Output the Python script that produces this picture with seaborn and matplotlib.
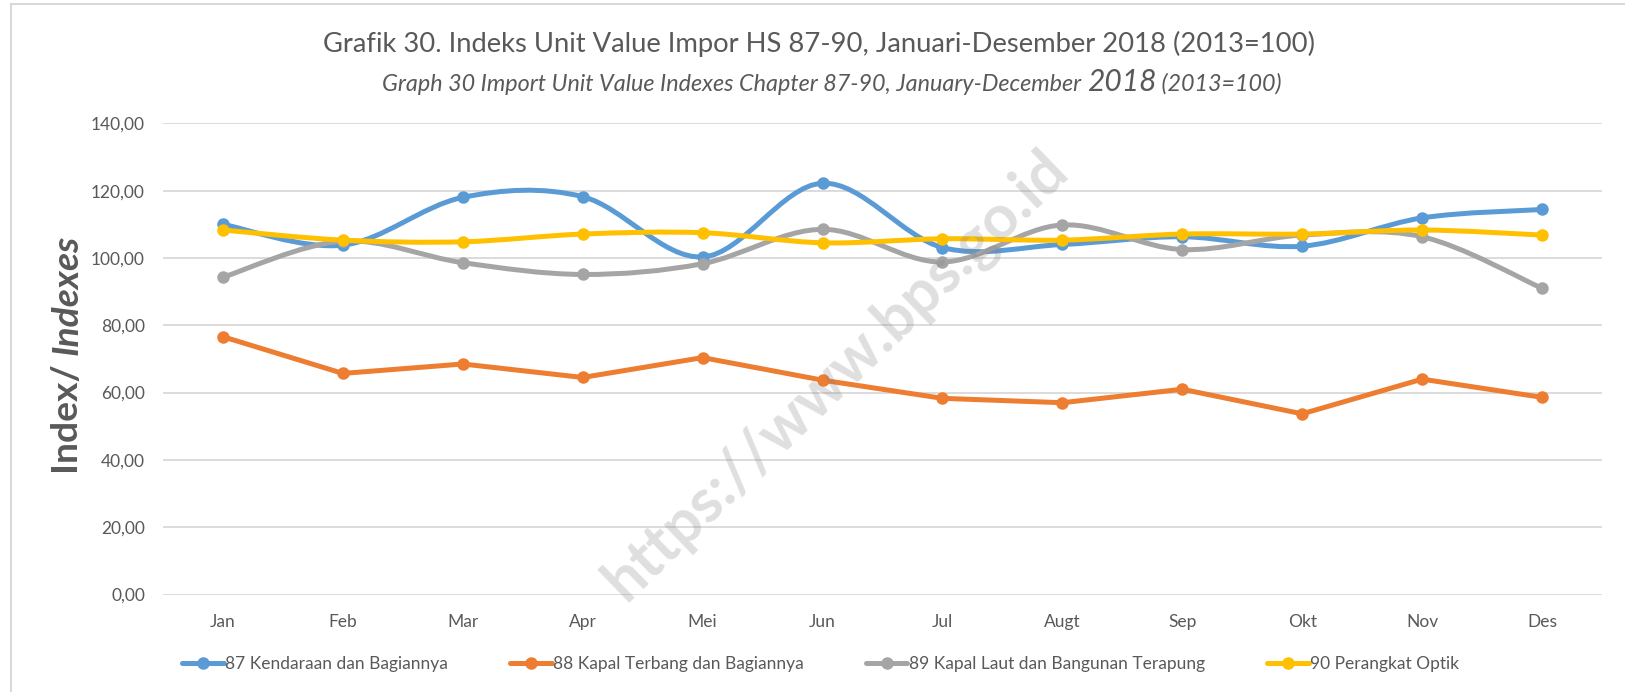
import matplotlib
matplotlib.use('Agg')
import matplotlib.pyplot as plt
import seaborn as sns
import pandas as pd
from matplotlib.path import Path
from matplotlib.patches import PathPatch
from matplotlib.lines import Line2D

# Chart data
months = ['Jan', 'Feb', 'Mar', 'Apr', 'Mei', 'Jun', 'Jul', 'Augt', 'Sep', 'Okt', 'Nov', 'Des']
hs87 = [110.0, 103.8, 118.0, 118.2, 100.3, 122.2, 103.1, 104.0, 106.3, 103.5, 111.9, 114.4]
hs88 = [76.6, 65.7, 68.5, 64.5, 70.4, 63.7, 58.3, 57.0, 61.0, 53.7, 64.0, 58.6]
hs89 = [94.3, 105.0, 98.6, 95.1, 98.3, 108.5, 98.8, 109.8, 102.5, 106.8, 106.3, 91.0]
hs90 = [108.3, 105.3, 104.8, 107.1, 107.5, 104.5, 105.7, 105.3, 107.1, 107.1, 108.3, 106.8]
series_names = ['87 Kendaraan dan Bagiannya', '88 Kapal Terbang dan Bagiannya',
                '89 Kapal Laut dan Bangunan Terapung', '90 Perangkat Optik']
y_ticks = [0, 20, 40, 60, 80, 100, 120, 140]

colors = ['#5B9BD5', '#ED7D31', '#A5A5A5', '#FFC000']
smooth = [True, False, True, True]
text_col = '#595959'

sns.set_theme(style='white')
plt.rcParams['font.family'] = ['Lato', 'DejaVu Sans']

df = pd.DataFrame({'month': months * 4,
                   'value': hs87 + hs88 + hs89 + hs90,
                   'series': sum([[n] * 12 for n in series_names], [])})

fig = plt.figure(figsize=(16.25, 6.92), dpi=100)
ax = fig.add_axes([163 / 1625, 1 - 594.6 / 692, 1439 / 1625, 471.3 / 692])

lw = 3.6
ms = 9


def smooth_path(xs, ys):
    # Excel-like smoothed line: cubic Bezier through the points (Catmull-Rom control points)
    pts = list(zip(xs, ys))
    verts = [pts[0]]
    codes = [Path.MOVETO]
    n = len(pts)
    for i in range(n - 1):
        p0 = pts[i - 1] if i > 0 else pts[i]
        p1 = pts[i]
        p2 = pts[i + 1]
        p3 = pts[i + 2] if i + 2 < n else pts[i + 1]
        c1 = (p1[0] + (p2[0] - p0[0]) / 6, p1[1] + (p2[1] - p0[1]) / 6)
        c2 = (p2[0] - (p3[0] - p1[0]) / 6, p2[1] - (p3[1] - p1[1]) / 6)
        verts += [c1, c2, p2]
        codes += [Path.CURVE4] * 3
    return Path(verts, codes)


for name, col, sm in zip(series_names, colors, smooth):
    sub = df[df['series'] == name]
    if sm:
        xs = list(range(len(months)))
        ax.add_patch(PathPatch(smooth_path(xs, sub['value'].tolist()), facecolor='none',
                               edgecolor=col, lw=lw, capstyle='round', joinstyle='round', zorder=3))
        sns.scatterplot(data=sub, x='month', y='value', color=col, s=ms ** 2, linewidth=0,
                        ax=ax, zorder=4, legend=False)
    else:
        sns.lineplot(data=sub, x='month', y='value', color=col, lw=lw, marker='o', markersize=ms,
                     markeredgewidth=0, ax=ax, zorder=3, legend=False)

ax.set_xlim(-0.5, 11.5)
ax.set_ylim(0, 140)
ax.set_yticks(y_ticks)
ax.set_yticklabels([f'{v:.2f}'.replace('.', ',') for v in y_ticks])
ax.set_xticks(range(len(months)))
ax.set_xticklabels(months)
ax.tick_params(axis='both', length=0, labelsize=12.5, colors=text_col)
ax.tick_params(axis='y', pad=13)
ax.tick_params(axis='x', pad=14)
ax.grid(axis='y', color='#D9D9D9', lw=1.3)
ax.set_axisbelow(True)
for s in ax.spines.values():
    s.set_visible(False)
ax.set_xlabel('')
ax.set_ylabel('')

# watermark
fig.text(836 / 1625, 1 - 375 / 692, 'https://www.bps.go.id', rotation=44, fontsize=44,
         fontweight='bold', color='gray', alpha=0.25, ha='center', va='center', zorder=10)

# legend
handles = [Line2D([], [], color=c, lw=lw, marker='o', markersize=ms, markeredgewidth=0) for c in colors]
fig.legend(handles, series_names, loc='center', bbox_to_anchor=(0.505, 1 - 664 / 692), ncol=4,
           frameon=False, handlelength=2.4, handletextpad=0.1, columnspacing=3.55,
           prop={'size': 12.5}, labelcolor=text_col)

# chart border
fig.add_artist(Line2D([11 / 1625, 11 / 1625], [0, 1 - 4 / 692], color='#D9D9D9', lw=1.5,
                      transform=fig.transFigure))
fig.add_artist(Line2D([11 / 1625, 1], [1 - 4 / 692, 1 - 4 / 692], color='#D9D9D9', lw=1.5,
                      transform=fig.transFigure))


def text_row(pieces, cx, cy, rotation=0):
    # lay out text pieces of mixed style along one baseline, centred on (cx, cy) in pixels
    W, H = fig.bbox.width, fig.bbox.height
    objs = [fig.text(0, 0, s, rotation=rotation, rotation_mode='anchor', ha='left',
                     va='baseline', color=text_col, **kw) for s, kw in pieces]
    fig.canvas.draw()
    r = fig.canvas.get_renderer()
    sizes = [(o.get_window_extent(r).height if rotation else o.get_window_extent(r).width) for o in objs]
    pos = -sum(sizes) / 2
    for o, sz in zip(objs, sizes):
        if rotation:
            o.set_position((cx / W, (cy + pos) / H))
        else:
            o.set_position(((cx + pos) / W, cy / H))
        pos += sz


text_row([('Grafik 30. Indeks Unit Value Impor HS 87-90, Januari-Desember 2018 (2013=100)',
           {'fontsize': 19.7})], 819, 692 - 52)
text_row([('Graph 30 Import Unit Value Indexes Chapter 87-90, January-December ',
           {'fontsize': 16.8, 'style': 'italic'}),
          ('2018', {'fontsize': 21.6, 'style': 'italic'}),
          (' (2013=100)', {'fontsize': 16.8, 'style': 'italic'})], 832, 692 - 91)
text_row([('Index/ ', {'fontsize': 26.8, 'fontweight': 'bold'}),
          ('Indexes', {'fontsize': 26.8, 'fontweight': 'bold', 'style': 'italic'})],
         78, 692 - 354, rotation=90)

fig.savefig('out.png', dpi=100)
